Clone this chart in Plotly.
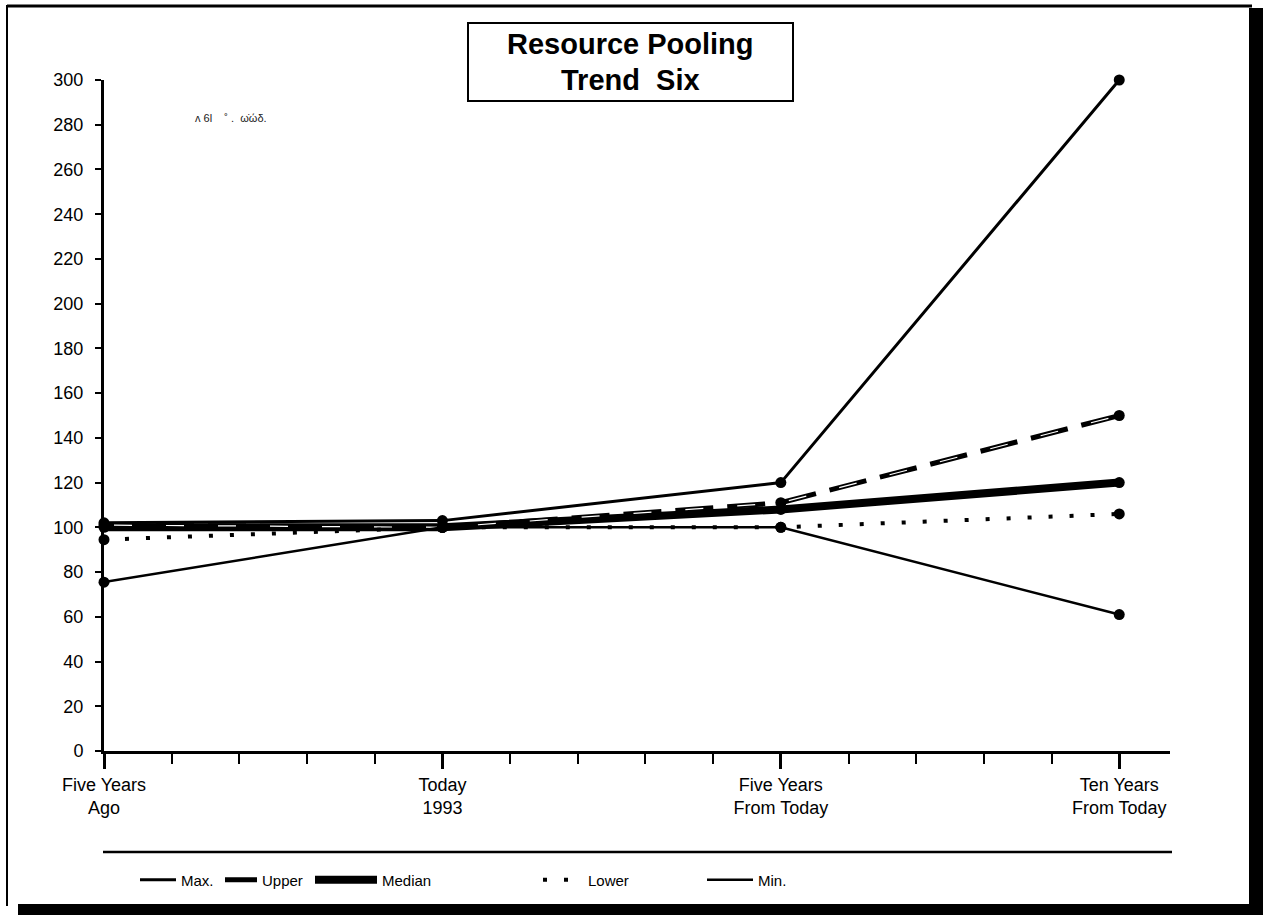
import plotly.graph_objects as go

# Time points and the five trend series
periods = ["Five Years<br>Ago", "Today<br>1993", "Five Years<br>From Today", "Ten Years<br>From Today"]
period_pos = [0, 1, 2, 3]
series_names = ["Max.", "Upper", "Median", "Lower", "Min."]
max_vals = [102, 103, 120, 300]
upper_vals = [101, 100, 111, 150]
median_vals = [100, 100, 108, 120]
lower_vals = [94.5, 100, 100, 106]
min_vals = [75.5, 100, 100, 61]
y_ticks = list(range(0, 301, 20))

FONT = "Liberation Sans, Arial, sans-serif"

# plot area in pixels
W, H = 1263, 915
L, R, T, B = 104, 93, 80, 164
PW, PH = W - L - R, H - T - B


def px_x(px):
    return (px - L) / PW


def px_y(py):
    return (H - B - py) / PH


styles = {
    "Max.": dict(width=3, dash="solid"),
    "Upper": dict(width=5, dash="38px,14px"),
    "Median": dict(width=8, dash="solid"),
    "Lower": dict(width=4, dash="4px,17px"),
    "Min.": dict(width=2.5, dash="solid"),
}
values = {"Max.": max_vals, "Upper": upper_vals, "Median": median_vals,
          "Lower": lower_vals, "Min.": min_vals}
legend_ids = {"Max.": "legend", "Upper": "legend2", "Median": "legend3",
              "Lower": "legend4", "Min.": "legend5"}
# text start and sample length of each legend entry, in pixels
legend_text_x = {"Max.": 181, "Upper": 262, "Median": 382, "Lower": 588, "Min.": 758}
legend_item_w = {"Max.": 36, "Upper": 32, "Median": 62, "Lower": 40, "Min.": 46}

fig = go.Figure()

draw_order = ["Median", "Max.", "Upper", "Min.", "Lower"]
for name in draw_order:
    st = styles[name]
    fig.add_trace(go.Scatter(
        x=period_pos, y=values[name], mode="lines", name=name,
        line=dict(color="black", width=st["width"], dash=st["dash"]),
        legend=legend_ids[name], cliponaxis=False,
    ))
    if name == "Upper":
        # hollow centre of the long dashes
        fig.add_trace(go.Scatter(
            x=period_pos, y=values[name], mode="lines", showlegend=False,
            line=dict(color="white", width=1.2, dash="0px,10px,18px,24px"),
            cliponaxis=False, hoverinfo="skip",
        ))

for name in series_names:
    fig.add_trace(go.Scatter(
        x=period_pos, y=values[name], mode="markers", showlegend=False,
        marker=dict(color="black", size=11, symbol="circle"),
        cliponaxis=False,
    ))

layout_legends = {}
for name in series_names:
    iw = legend_item_w[name]
    layout_legends[legend_ids[name]] = dict(
        x=(legend_text_x[name] - iw - 10) / W, xref="container", xanchor="left",
        y=1 - 880 / H, yref="container", yanchor="middle",
        orientation="h", bgcolor="rgba(0,0,0,0)", borderwidth=0,
        itemwidth=max(iw, 30),
        font=dict(family=FONT, size=15, color="black"),
    )

shapes = [
    # title box
    dict(type="rect", xref="paper", yref="paper",
         x0=px_x(468), x1=px_x(793), y0=px_y(101), y1=px_y(23),
         line=dict(color="black", width=2), fillcolor="white", layer="below"),
    # rule above the legend
    dict(type="line", xref="paper", yref="paper",
         x0=px_x(103), x1=px_x(1172), y0=px_y(852), y1=px_y(852),
         line=dict(color="black", width=2.5)),
    # page frame
    dict(type="line", xref="paper", yref="paper",
         x0=px_x(7), x1=px_x(7), y0=px_y(5), y1=px_y(906),
         line=dict(color="black", width=2)),
    dict(type="line", xref="paper", yref="paper",
         x0=px_x(7), x1=px_x(1252), y0=px_y(6), y1=px_y(6),
         line=dict(color="black", width=3)),
    dict(type="rect", xref="paper", yref="paper",
         x0=px_x(1249), x1=px_x(1263), y0=px_y(915), y1=px_y(8),
         line=dict(width=0), fillcolor="black"),
    dict(type="rect", xref="paper", yref="paper",
         x0=px_x(18), x1=px_x(1263), y0=px_y(915), y1=px_y(904),
         line=dict(width=0), fillcolor="black"),
]

annotations = [
    dict(text="<b>Resource Pooling</b>", xref="paper", yref="paper",
         x=px_x(630), y=px_y(44), xanchor="center", yanchor="middle",
         showarrow=False, font=dict(family=FONT, size=29, color="black")),
    dict(text="<b>Trend  Six</b>", xref="paper", yref="paper",
         x=px_x(630), y=px_y(80), xanchor="center", yanchor="middle",
         showarrow=False, font=dict(family=FONT, size=29, color="black")),
    dict(text="ᴧ 6l    ˚ .  ω̇ώδ.", xref="paper", yref="paper",
         x=px_x(193), y=px_y(118), xanchor="left", yanchor="middle",
         showarrow=False, font=dict(family=FONT, size=11, color="#222")),
]

fig.update_layout(
    width=W, height=H,
    margin=dict(l=L, r=R, t=T, b=B, pad=0),
    paper_bgcolor="white", plot_bgcolor="white",
    font=dict(family=FONT, size=19, color="black"),
    shapes=shapes, annotations=annotations,
    **layout_legends,
)

fig.update_xaxes(
    range=[0, 3.15], tickmode="array", tickvals=period_pos, ticktext=periods,
    showgrid=False, zeroline=False, showline=True, linecolor="black", linewidth=3,
    ticks="outside", ticklen=15, tickwidth=3, tickcolor="black",
    tickfont=dict(family=FONT, size=18, color="black"),
    minor=dict(tickmode="linear", tick0=0, dtick=0.2, ticks="outside",
               ticklen=10, tickwidth=2, tickcolor="black", showgrid=False),
)
fig.update_yaxes(
    range=[0, 300], tickmode="array", tickvals=y_ticks,
    showgrid=False, zeroline=False, showline=True, linecolor="black", linewidth=3,
    ticks="outside", ticklen=6, tickwidth=2, tickcolor="black",
    ticklabelstandoff=8,
    tickfont=dict(family=FONT, size=18, color="black"),
)

fig.write_html("out.html")
